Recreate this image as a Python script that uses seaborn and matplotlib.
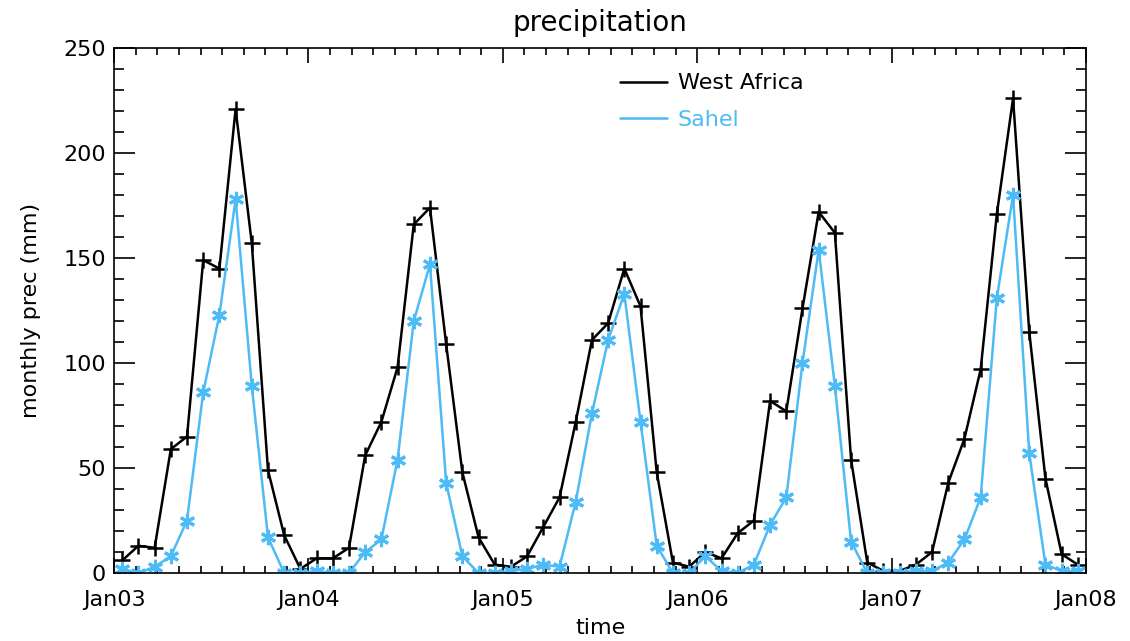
import numpy as np
import pandas as pd
import seaborn as sns
from matplotlib import pyplot as plt
from matplotlib.ticker import MultipleLocator
from matplotlib.lines import Line2D

# monthly precipitation (mm), Jan 2003 - Dec 2007
west_africa = [6, 13, 12, 59, 65, 149, 145, 221, 157, 49, 18, 2,
               7, 7, 12, 56, 72, 98, 166, 174, 109, 48, 17, 4,
               3, 8, 22, 36, 72, 111, 119, 145, 127, 48, 5, 3,
               10, 7, 19, 25, 82, 77, 126, 172, 162, 54, 5, 1,
               1, 4, 10, 43, 64, 97, 171, 226, 115, 45, 9, 4]
sahel = [2, 0, 3, 8, 25, 86, 123, 178, 89, 17, 0, 0,
         1, 0, 0, 10, 16, 54, 120, 147, 43, 8, 0, 0,
         1, 2, 4, 3, 34, 76, 111, 133, 72, 13, 0, 0,
         8, 1, 0, 4, 23, 36, 100, 154, 89, 15, 0, 0,
         0, 1, 1, 5, 16, 36, 131, 180, 57, 4, 1, 1]
year_labels = ['Jan03', 'Jan04', 'Jan05', 'Jan06', 'Jan07', 'Jan08']

months = np.arange(len(west_africa)) + 0.5
df = pd.DataFrame({'month': months, 'West Africa': west_africa, 'Sahel': sahel})

sns.set_style('ticks')
plt.rcParams['font.family'] = ['DejaVu Sans']
plt.rcParams['text.color'] = 'black'
plt.rcParams['axes.labelcolor'] = 'black'

blue = '#4dbbf5'
fig = plt.figure(figsize=(11.3, 6.41), dpi=100)
ax = fig.add_axes([0.101, 0.106, 0.860, 0.819])

sns.lineplot(x='month', y='West Africa', data=df, ax=ax, color='black', lw=1.8,
             marker='+', markersize=11, markeredgewidth=1.8, markeredgecolor='black')
sns.lineplot(x='month', y='Sahel', data=df, ax=ax, color=blue, lw=1.8,
             marker=(6, 2, 0), markersize=11, markeredgewidth=2.2, markeredgecolor=blue)

ax.set_xlim(0, 60)
ax.set_ylim(0, 250)
ax.set_xticks(np.arange(0, 61, 12))
ax.set_xticklabels(year_labels)
ax.xaxis.set_minor_locator(MultipleLocator(12 / 9))
ax.yaxis.set_major_locator(MultipleLocator(50))
ax.yaxis.set_minor_locator(MultipleLocator(10))

ax.tick_params(axis='both', which='both', direction='in', top=True, right=True,
               colors='black', labelsize=16, width=1.2)
ax.tick_params(axis='x', which='major', length=11, pad=12)
ax.tick_params(axis='x', which='minor', length=5)
ax.tick_params(axis='y', which='major', length=15, pad=6)
ax.tick_params(axis='y', which='minor', length=7)
for s in ax.spines.values():
    s.set_linewidth(1.2)
    s.set_color('black')

ax.set_title('precipitation', fontsize=20, pad=12, color='black')
ax.set_xlabel('time', fontsize=16, labelpad=6)
ax.set_ylabel('monthly prec (mm)', fontsize=16, labelpad=16)

handles = [Line2D([], [], color='black', lw=1.8), Line2D([], [], color=blue, lw=1.8)]
leg = ax.legend(handles, ['West Africa', 'Sahel'], loc='upper left',
                bbox_to_anchor=(0.50, 0.99), frameon=False, fontsize=16,
                handlelength=2.1, handletextpad=0.5, labelspacing=0.75)
for t, c in zip(leg.get_texts(), ['black', blue]):
    t.set_color(c)

fig.savefig('out.png', dpi=100)
